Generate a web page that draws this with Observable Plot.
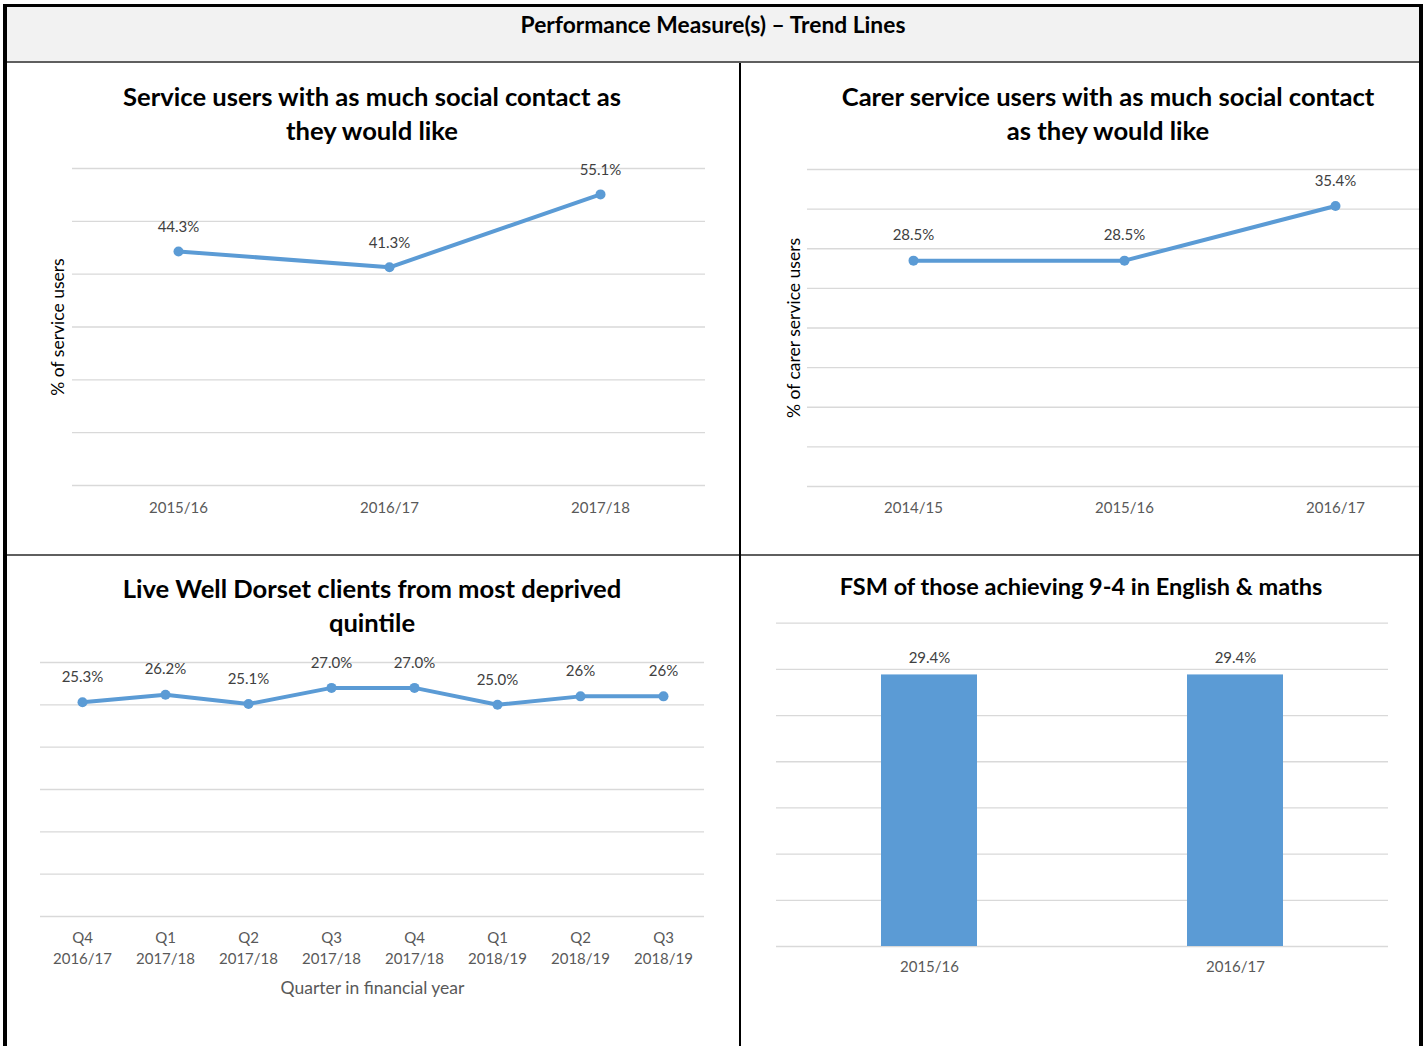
<!DOCTYPE html>
<html><head><meta charset="utf-8">
<script src="https://cdn.jsdelivr.net/npm/d3@7"></script>
<script src="https://cdn.jsdelivr.net/npm/@observablehq/plot@0.6"></script>
<style>
html,body{margin:0;padding:0;background:#fff;overflow:hidden;width:1427px;height:1046px;}
#page{position:relative;width:1427px;height:1046px;font-family:Lato,sans-serif;overflow:hidden;}
.box{position:absolute;}
.clip{position:absolute;overflow:hidden;}
.clip svg{position:absolute;max-width:none !important;}
.title{position:absolute;font-weight:bold;font-size:25.6px;line-height:34px;text-align:center;color:#000;white-space:nowrap;}
</style></head>
<body><div id="page"></div>
<script>
// ---------- data ----------
const heading = "Performance Measure(s) \u2013 Trend Lines";

const p1Title = ["Service users with as much social contact as", "they would like"];
const p1Years = ["2015/16", "2016/17", "2017/18"];
const p1Values = [44.3, 41.3, 55.1];
const p1Labels = ["44.3%", "41.3%", "55.1%"];
const p1YLabel = "% of service users";
const p1Grid = [0, 10, 20, 30, 40, 50, 60];

const p2Title = ["Carer service users with as much social contact", "as they would like"];
const p2Years = ["2014/15", "2015/16", "2016/17"];
const p2Values = [28.5, 28.5, 35.4];
const p2Labels = ["28.5%", "28.5%", "35.4%"];
const p2YLabel = "% of carer service users";
const p2Grid = [0, 5, 10, 15, 20, 25, 30, 35, 40];

const p3Title = ["Live Well Dorset clients from most deprived", "quintile"];
const p3Quarters = ["Q4", "Q1", "Q2", "Q3", "Q4", "Q1", "Q2", "Q3"];
const p3Years = ["2016/17", "2017/18", "2017/18", "2017/18", "2017/18", "2018/19", "2018/19", "2018/19"];
const p3Values = [25.3, 26.2, 25.1, 27.0, 27.0, 25.0, 26, 26];
const p3Labels = ["25.3%", "26.2%", "25.1%", "27.0%", "27.0%", "25.0%", "26%", "26%"];
const p3XLabel = "Quarter in financial year";
const p3Grid = [0, 5, 10, 15, 20, 25, 30];

const p4Title = ["FSM of those achieving 9-4 in English & maths"];
const p4Years = ["2015/16", "2016/17"];
const p4Values = [29.4, 29.4];
const p4Labels = ["29.4%", "29.4%"];
const p4Grid = [0, 5, 10, 15, 20, 25, 30, 35];

// ---------- styles ----------
const BLUE = "#5b9bd5";
const GRID = "#d9d9d9";
const TICK = "#595959";
const LABEL = "#404040";
const FONT = "Lato, sans-serif";

const page = document.getElementById("page");
function box(css) { const d = document.createElement("div"); d.className = "box"; Object.assign(d.style, css); page.appendChild(d); return d; }
function title(lines, cx, top, size) {
  const d = document.createElement("div"); d.className = "title";
  d.style.left = (cx - 350) + "px"; d.style.width = "700px"; d.style.top = top + "px";
  if (size) d.style.fontSize = size + "px";
  d.innerHTML = lines.map(l => l.replace(/&/g, "&amp;")).join("<br>");
  page.appendChild(d); return d;
}
function clip(left, top, width, height) { const d = document.createElement("div"); d.className = "clip"; Object.assign(d.style, {left: left + "px", top: top + "px", width: width + "px", height: height + "px"}); page.appendChild(d); return d; }
function place(container, svg, x, y) { svg.style.left = x + "px"; svg.style.top = y + "px"; svg.style.maxWidth = "none"; container.appendChild(svg); }

// header
box({left: "7px", top: "7px", width: "1412px", height: "54px", background: "#f2f2f2"});
title([heading], 713, 7, 22.8);

// ---------- panel 1 ----------
const d1 = p1Years.map((c, i) => ({c, v: p1Values[i], t: p1Labels[i]}));
const c1 = clip(7, 63, 733, 491);
place(c1, Plot.plot({
  width: 740, height: 390, marginLeft: 72, marginRight: 35, marginTop: 18, marginBottom: 55,
  style: {fontFamily: FONT, fontSize: "15px", color: TICK, background: "transparent"},
  x: {type: "point", domain: p1Years, padding: 0.5},
  y: {domain: [0, 60], axis: null},
  marks: [
    Plot.ruleY(p1Grid, {stroke: GRID, strokeWidth: 1.3}),
    Plot.axisX({tickSize: 0, tickPadding: 16.5, fontSize: 15, label: null}),
    Plot.line(d1, {x: "c", y: "v", stroke: BLUE, strokeWidth: 4}),
    Plot.dot(d1, {x: "c", y: "v", r: 5, fill: BLUE}),
    Plot.text(d1, {x: "c", y: "v", text: "t", dy: -24, fill: LABEL, fontSize: 15}),
    Plot.text([p1YLabel], {text: d => d, frameAnchor: "left", textAnchor: "middle", lineAnchor: "middle", rotate: -90, dx: -14, fill: "#000", fontSize: 17.5})
  ]
}), -7, 150 - 63);
title(p1Title, 372, 79);

// ---------- panel 2 ----------
const d2 = p2Years.map((c, i) => ({c, v: p2Values[i], t: p2Labels[i]}));
const c2 = clip(741, 63, 678, 491);
place(c2, Plot.plot({
  width: 700, height: 390, marginLeft: 67, marginRight: 0, marginTop: 19, marginBottom: 54,
  style: {fontFamily: FONT, fontSize: "15px", color: TICK, background: "transparent"},
  x: {type: "point", domain: p2Years, padding: 0.5},
  y: {domain: [0, 40], axis: null},
  marks: [
    Plot.ruleY(p2Grid, {stroke: GRID, strokeWidth: 1.3}),
    Plot.axisX({tickSize: 0, tickPadding: 15.5, fontSize: 15, label: null}),
    Plot.line(d2, {x: "c", y: "v", stroke: BLUE, strokeWidth: 4}),
    Plot.dot(d2, {x: "c", y: "v", r: 5, fill: BLUE}),
    Plot.text(d2, {x: "c", y: "v", text: "t", dy: -25, fill: LABEL, fontSize: 15}),
    Plot.text([p2YLabel], {text: d => d, frameAnchor: "left", textAnchor: "middle", lineAnchor: "middle", rotate: -90, dx: -13, fill: "#000", fontSize: 17.5})
  ]
}), -1, 150 - 63);
title(p2Title, 1108, 79);

// ---------- panel 3 ----------
const p3Cats = p3Quarters.map((q, i) => q + "\n" + p3Years[i]);
const d3 = p3Cats.map((c, i) => ({c, v: p3Values[i], t: p3Labels[i]}));
const c3 = clip(7, 556, 733, 490);
place(c3, Plot.plot({
  width: 740, height: 380, marginLeft: 40, marginRight: 36, marginTop: 22, marginBottom: 104,
  style: {fontFamily: FONT, fontSize: "15px", color: TICK, background: "transparent"},
  x: {type: "point", domain: p3Cats, padding: 0.5},
  y: {domain: [0, 30], axis: null},
  marks: [
    Plot.ruleY(p3Grid, {stroke: GRID, strokeWidth: 1.3}),
    Plot.axisX({tickSize: 0, tickPadding: 12, fontSize: 15, lineHeight: 1.4, label: null}),
    Plot.line(d3, {x: "c", y: "v", stroke: BLUE, strokeWidth: 4}),
    Plot.dot(d3, {x: "c", y: "v", r: 5, fill: BLUE}),
    Plot.text(d3, {x: "c", y: "v", text: "t", dy: -25, fill: LABEL, fontSize: 15}),
    Plot.text([p3XLabel], {text: d => d, frameAnchor: "bottom", textAnchor: "middle", lineAnchor: "middle", dy: 72, fill: TICK, fontSize: 17.5})
  ]
}), -7, 640 - 556);
title(p3Title, 372, 571);

// ---------- panel 4 ----------
const d4 = p4Years.map((c, i) => ({c, v: p4Values[i], t: p4Labels[i]}));
const c4 = clip(741, 556, 678, 490);
place(c4, Plot.plot({
  width: 687, height: 400, marginLeft: 36, marginRight: 39, marginTop: 22.7, marginBottom: 54,
  style: {fontFamily: FONT, fontSize: "15px", color: TICK, background: "transparent"},
  x: {type: "band", domain: p4Years, paddingInner: 0.686, paddingOuter: 0.343},
  y: {domain: [0, 35], axis: null},
  marks: [
    Plot.ruleY(p4Grid, {stroke: GRID, strokeWidth: 1.3}),
    Plot.axisX({tickSize: 0, tickPadding: 14.5, fontSize: 15, label: null}),
    Plot.barY(d4, {x: "c", y: "v", fill: BLUE}),
    Plot.text(d4, {x: "c", y: "v", text: "t", dy: -17, fill: LABEL, fontSize: 15})
  ]
}), -1, 600 - 556);
title(p4Title, 1081, 569, 23.5);

// ---------- frame ----------
box({left: "3px", top: "4px", width: "1420px", height: "3px", background: "#000"});
box({left: "3px", top: "4px", width: "4px", height: "1042px", background: "#000"});
box({left: "1419px", top: "4px", width: "4px", height: "1042px", background: "#000"});
box({left: "7px", top: "61px", width: "1412px", height: "2px", background: "#5f5f5f"});
box({left: "7px", top: "554px", width: "1412px", height: "2px", background: "#5f5f5f"});
box({left: "739px", top: "63px", width: "2px", height: "983px", background: "#000"});
</script>
</body></html>
